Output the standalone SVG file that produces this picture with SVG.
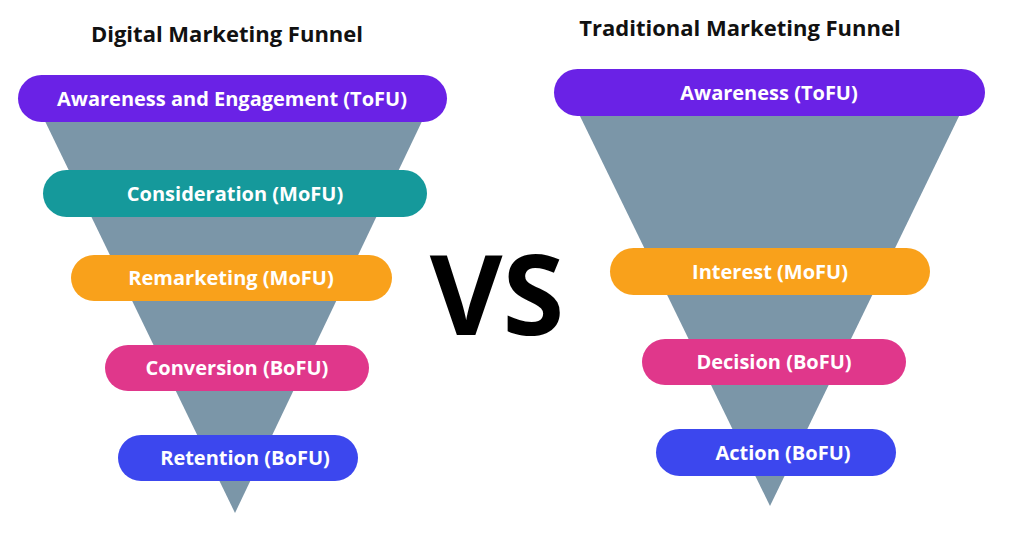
<svg xmlns="http://www.w3.org/2000/svg" width="1024" height="536" viewBox="0 0 1024 536">
<style>
.t{font-family:"Open Sans","Liberation Sans",sans-serif;font-weight:700;fill:#fff;font-size:20px;text-anchor:middle}
.h{font-family:"Open Sans","Liberation Sans",sans-serif;font-weight:700;fill:#111;font-size:22px;text-anchor:middle}
.f{fill:#7b96a8}
.pu{fill:#6a22e6}.te{fill:#15999b}.or{fill:#f9a11b}.pk{fill:#e0378b}.bl{fill:#3c47ee}
</style>
<rect width="1024" height="536" fill="#fff"/>
<text class="h" x="227" y="42">Digital Marketing Funnel</text>
<text class="h" x="740" y="36">Traditional Marketing Funnel</text>
<text x="497" y="335" font-family="Open Sans, Liberation Sans, sans-serif" font-weight="700" font-size="112" text-anchor="middle" fill="#000">VS</text>
<polygon class="f" points="42,115 425,115 235,513"/>
<polygon class="f" points="577,110 962,110 770,506"/>
<g id="d1"><rect class="pu" x="18" y="75" width="429" height="47" rx="23.5"/><text class="t" x="232" y="106">Awareness and Engagement (ToFU)</text></g>
<g id="d2"><rect class="te" x="43" y="170" width="384" height="47" rx="23.5"/><text class="t" x="235" y="201">Consideration (MoFU)</text></g>
<g id="d3"><rect class="or" x="71" y="255" width="321" height="46" rx="23"/><text class="t" x="231" y="285">Remarketing (MoFU)</text></g>
<g id="d4"><rect class="pk" x="105" y="345" width="264" height="46" rx="23"/><text class="t" x="237" y="375">Conversion (BoFU)</text></g>
<g id="d5"><rect class="bl" x="118" y="435" width="240" height="46" rx="23"/><text class="t" x="245" y="465">Retention (BoFU)</text></g>
<g id="t1"><rect class="pu" x="554" y="69" width="431" height="47" rx="23.5"/><text class="t" x="769" y="100">Awareness (ToFU)</text></g>
<g id="t2"><rect class="or" x="610" y="248" width="320" height="47" rx="23.5"/><text class="t" x="770" y="279">Interest (MoFU)</text></g>
<g id="t3"><rect class="pk" x="642" y="339" width="264" height="46" rx="23"/><text class="t" x="774" y="369">Decision (BoFU)</text></g>
<g id="t4"><rect class="bl" x="656" y="429" width="240" height="47" rx="23.5"/><text class="t" x="783" y="460">Action (BoFU)</text></g>
<g id="connectors"/>
</svg>
